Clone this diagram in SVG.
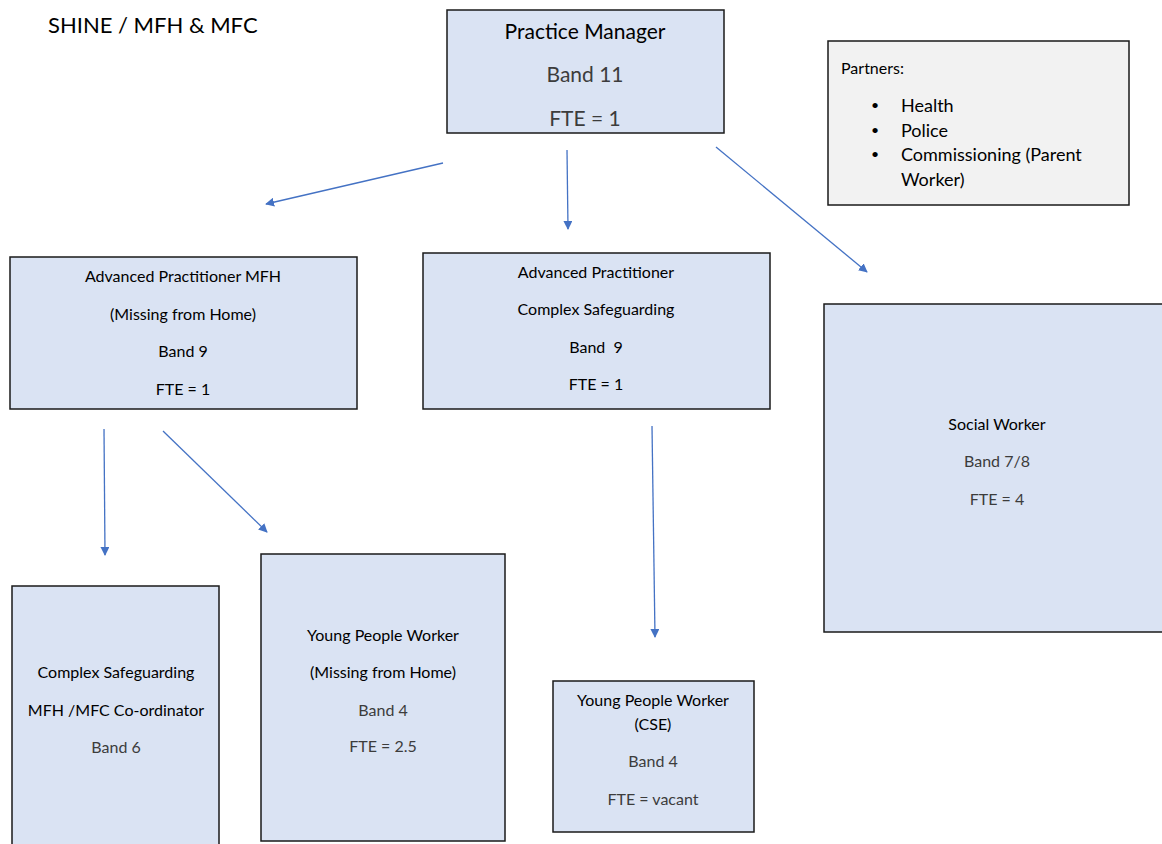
<svg xmlns="http://www.w3.org/2000/svg" width="1162" height="844" viewBox="0 0 1162 844">
<defs>
<marker id="ah" viewBox="0 0 10 10" refX="9" refY="5" markerWidth="9" markerHeight="9" markerUnits="userSpaceOnUse" orient="auto">
<path d="M0,0 L10,5 L0,10 z" fill="#4472c4"/>
</marker>
<style>
.box{fill:#dae3f3;stroke:#1a1a1a;stroke-width:1.5}
.t{font-family:Lato,"Noto Sans",sans-serif;text-anchor:middle;fill:#000}
.s{font-size:16px}
.g{fill:#3c3c3c}
.c{stroke:#4472c4;stroke-width:1.3;fill:none;marker-end:url(#ah)}
</style>
</defs>
<rect width="1162" height="844" fill="#fff"/>
<text x="48" y="33" style="font-family:Lato,'Noto Sans',sans-serif;font-size:22px;fill:#000">SHINE / MFH &amp; MFC</text>

<g id="practice-manager">
<rect class="box" x="447" y="10" width="277" height="123"/>
<text class="t" x="585" y="39" font-size="21">Practice Manager</text>
<text class="t g" x="585" y="82" font-size="21">Band 11</text>
<text class="t g" x="585" y="126" font-size="21">FTE = 1</text>
</g>

<g id="partners">
<rect x="828" y="41" width="301" height="164" fill="#f2f2f2" stroke="#1a1a1a" stroke-width="1.5"/>
<g style="font-family:Lato,'Noto Sans',sans-serif;fill:#000">
<text x="841" y="74" font-size="16">Partners:</text>
<text x="871" y="110" font-size="14">•</text>
<text x="871" y="135" font-size="14">•</text>
<text x="871" y="159" font-size="14">•</text>
<text x="901" y="112" font-size="18">Health</text>
<text x="901" y="137" font-size="18">Police</text>
<text x="901" y="161" font-size="18">Commissioning (Parent</text>
<text x="901" y="186" font-size="18">Worker)</text>
</g>
</g>

<g id="ap-mfh">
<rect class="box" x="10" y="257" width="347" height="152"/>
<text class="t s" x="183" y="282">Advanced Practitioner MFH</text>
<text class="t s" x="183" y="320">(Missing from Home)</text>
<text class="t s" x="183" y="357">Band 9</text>
<text class="t s" x="183" y="395">FTE = 1</text>
</g>

<g id="ap-complex">
<rect class="box" x="423" y="253" width="347" height="156"/>
<text class="t s" x="596" y="278">Advanced Practitioner</text>
<text class="t s" x="596" y="315">Complex Safeguarding</text>
<text class="t s" x="596" y="353" xml:space="preserve">Band  9</text>
<text class="t s" x="596" y="390">FTE = 1</text>
</g>

<g id="social-worker">
<rect class="box" x="824" y="304" width="340" height="328"/>
<text class="t s" x="997" y="430">Social Worker</text>
<text class="t s g" x="997" y="467">Band 7/8</text>
<text class="t s g" x="997" y="505">FTE = 4</text>
</g>

<g id="cs-coordinator">
<rect class="box" x="12" y="586" width="207" height="262"/>
<text class="t s" x="116" y="678">Complex Safeguarding</text>
<text class="t s" x="116" y="716">MFH /MFC Co-ordinator</text>
<text class="t s g" x="116" y="753">Band 6</text>
</g>

<g id="ypw-mfh">
<rect class="box" x="261" y="554" width="244" height="287"/>
<text class="t s" x="383" y="641">Young People Worker</text>
<text class="t s" x="383" y="678">(Missing from Home)</text>
<text class="t s g" x="383" y="716">Band 4</text>
<text class="t s g" x="383" y="752">FTE = 2.5</text>
</g>

<g id="ypw-cse">
<rect class="box" x="553" y="681" width="201" height="151"/>
<text class="t s" x="653" y="706">Young People Worker</text>
<text class="t s" x="653" y="730">(CSE)</text>
<text class="t s g" x="653" y="767">Band 4</text>
<text class="t s g" x="653" y="805">FTE = vacant</text>
</g>

<g id="connectors">
<line class="c" x1="443" y1="163" x2="266" y2="204"/>
<line class="c" x1="567" y1="150" x2="568" y2="229"/>
<line class="c" x1="716" y1="147" x2="867" y2="272"/>
<line class="c" x1="104" y1="429" x2="105" y2="555"/>
<line class="c" x1="163" y1="431" x2="267" y2="532"/>
<line class="c" x1="652" y1="426" x2="655" y2="637"/>
</g>
</svg>
